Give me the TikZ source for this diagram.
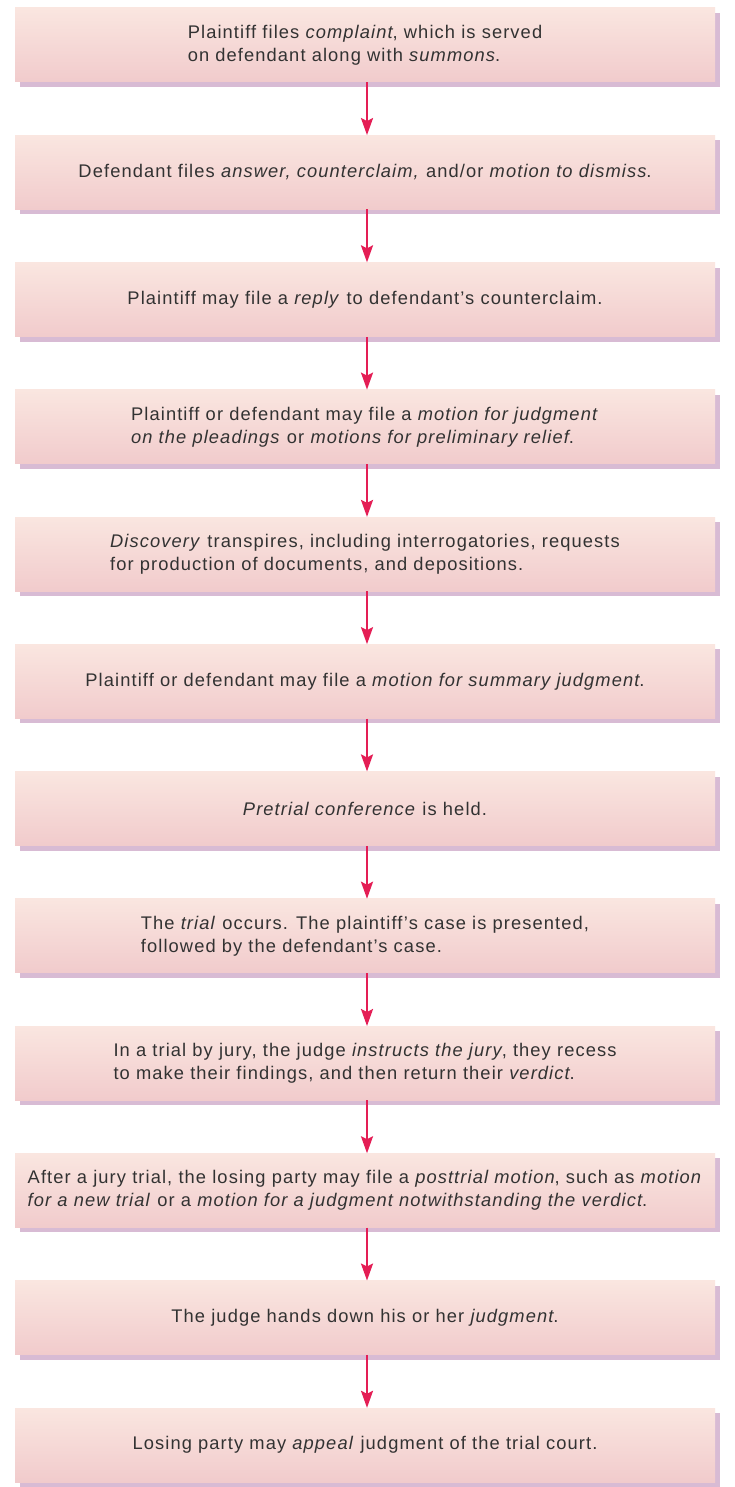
\documentclass[tikz,border=0pt]{standalone}
\usepackage{fontspec}
\setmainfont{Liberation Sans}[LetterSpace=6]
\usetikzlibrary{arrows.meta,shadows}

\definecolor{boxtop}{RGB}{250,230,224}
\definecolor{boxbot}{RGB}{241,203,204}
\definecolor{boxshade}{RGB}{212,180,208}
\definecolor{arrowred}{RGB}{228,30,85}
\definecolor{textgray}{RGB}{50,50,50}

\tikzset{
  stepbox/.style={
    minimum width=700pt, minimum height=74pt, inner sep=0pt,
    align=left, text=textgray,
    font=\fontsize{18.3}{23}\selectfont,
    top color=boxtop, bottom color=boxbot,
    drop shadow={shadow xshift=5pt, shadow yshift=-5pt,
                 fill=boxshade, opacity=0.9}
  },
  flow/.style={draw=arrowred, line width=2.2pt,
    -{Stealth[length=17pt,width=12pt,inset=3pt]}}
}

\begin{document}
\begin{tikzpicture}[x=1pt,y=-1pt]
  \useasboundingbox[fill=white] (0,0) rectangle (734,1487);

  \node[stepbox] (s1)  at (365,45)      {Plaintiff files \textit{complaint}, which is served\\on defendant along with \textit{summons}.};
  \node[stepbox] (s2)  at (365,172.27)  {Defendant files \textit{answer, counterclaim,} and/or \textit{motion to dismiss}.};
  \node[stepbox] (s3)  at (365,299.55)  {Plaintiff may file a \textit{reply} to defendant's counterclaim.};
  \node[stepbox] (s4)  at (365,426.82)  {Plaintiff or defendant may file a \textit{motion for judgment}\\\textit{on the pleadings} or \textit{motions for preliminary relief}.};
  \node[stepbox] (s5)  at (365,554.09)  {\textit{Discovery} transpires, including interrogatories, requests\\for production of documents, and depositions.};
  \node[stepbox] (s6)  at (365,681.36)  {Plaintiff or defendant may file a \textit{motion for summary judgment}.};
  \node[stepbox] (s7)  at (365,808.64)  {\textit{Pretrial conference} is held.};
  \node[stepbox] (s8)  at (365,935.91)  {The \textit{trial} occurs. The plaintiff's case is presented,\\followed by the defendant's case.};
  \node[stepbox] (s9)  at (365,1063.18) {In a trial by jury, the judge \textit{instructs the jury}, they recess\\to make their findings, and then return their \textit{verdict}.};
  \node[stepbox] (s10) at (365,1190.45) {After a jury trial, the losing party may file a \textit{posttrial motion}, such as \textit{motion}\\\textit{for a new trial} or a \textit{motion for a judgment notwithstanding the verdict}.};
  \node[stepbox] (s11) at (365,1317.73) {The judge hands down his or her \textit{judgment}.};
  \node[stepbox] (s12) at (365,1445)    {Losing party may \textit{appeal} judgment of the trial court.};

  \foreach \a/\b in {s1/s2,s2/s3,s3/s4,s4/s5,s5/s6,s6/s7,s7/s8,s8/s9,s9/s10,s10/s11,s11/s12}
    \draw[flow] ([xshift=2pt]\a.south) -- ([xshift=2pt]\b.north);
\end{tikzpicture}
\end{document}
